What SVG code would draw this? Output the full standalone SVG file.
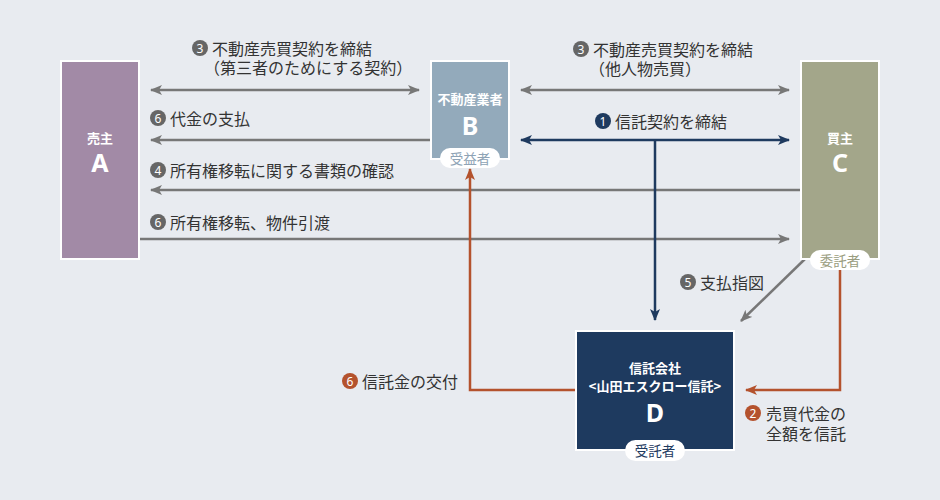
<svg xmlns="http://www.w3.org/2000/svg" width="940" height="500" viewBox="0 0 940 500">
<defs>
<style>
text{font-family:"Noto Sans CJK JP","Noto Sans",sans-serif;dominant-baseline:central}
.lbl{font-size:16px;fill:#333}
.num{font-size:12px;fill:#fff;text-anchor:middle;font-family:"Noto Sans","Liberation Sans",sans-serif}
.box{stroke:#fff;stroke-width:2}
.t{fill:#fff;font-weight:bold;text-anchor:middle}
.sm{font-size:13px}
.big{font-size:25px;font-family:"Noto Sans","Liberation Sans",sans-serif}
.badge{fill:#fff}
.bt{font-size:13.5px;text-anchor:middle}
.g{stroke:#777;stroke-width:2.5;fill:none}
.n{stroke:#1e3a5f;stroke-width:2.5;fill:none}
.o{stroke:#b4522d;stroke-width:2.5;fill:none}
</style>
<marker id="mg" viewBox="0 0 12 10" refX="11" refY="5" markerWidth="12" markerHeight="10" markerUnits="userSpaceOnUse" orient="auto-start-reverse"><path d="M0,0 L12,5 L0,10 L3,5 z" fill="#777"/></marker>
<marker id="mn" viewBox="0 0 12 10" refX="11" refY="5" markerWidth="12" markerHeight="10" markerUnits="userSpaceOnUse" orient="auto-start-reverse"><path d="M0,0 L12,5 L0,10 L3,5 z" fill="#1e3a5f"/></marker>
<marker id="mo" viewBox="0 0 12 10" refX="11" refY="5" markerWidth="12" markerHeight="10" markerUnits="userSpaceOnUse" orient="auto-start-reverse"><path d="M0,0 L12,5 L0,10 L3,5 z" fill="#b4522d"/></marker>
</defs>
<rect width="940" height="500" fill="#e8ebf0"/>

<g id="connectors">
<line class="g" x1="151" y1="90" x2="419" y2="90" marker-start="url(#mg)" marker-end="url(#mg)"/>
<line class="g" x1="430" y1="140" x2="151" y2="140" marker-end="url(#mg)"/>
<line class="g" x1="800" y1="190" x2="151" y2="190" marker-end="url(#mg)"/>
<line class="g" x1="140" y1="239" x2="789" y2="239" marker-end="url(#mg)"/>
<line class="g" x1="521" y1="90" x2="789" y2="90" marker-start="url(#mg)" marker-end="url(#mg)"/>
<line class="n" x1="521" y1="140" x2="789" y2="140" marker-start="url(#mn)" marker-end="url(#mn)"/>
<line class="n" x1="655" y1="140" x2="655" y2="320" marker-end="url(#mn)"/>
<line class="g" x1="806" y1="258" x2="741" y2="321" marker-end="url(#mg)"/>
<polyline class="o" points="840,270 840,390 746,390" marker-end="url(#mo)"/>
<polyline class="o" points="575,390 470,390 470,169" marker-end="url(#mo)"/>

<g id="labels">
<circle cx="200" cy="48" r="8" fill="#666"/><text class="num" x="200" y="48">3</text>
<text class="lbl"><tspan x="212" y="48">不動産売買契約を締結</tspan><tspan x="204" y="67">（第三者のためにする契約）</tspan></text>
<circle cx="158" cy="118" r="8" fill="#666"/><text class="num" x="158" y="118">6</text>
<text class="lbl" x="170" y="118">代金の支払</text>
<circle cx="158" cy="170" r="8" fill="#666"/><text class="num" x="158" y="170">4</text>
<text class="lbl" x="170" y="170">所有権移転に関する書類の確認</text>
<circle cx="158" cy="222" r="8" fill="#666"/><text class="num" x="158" y="222">6</text>
<text class="lbl" x="170" y="222">所有権移転、物件引渡</text>
<circle cx="581" cy="49" r="8" fill="#666"/><text class="num" x="581" y="49">3</text>
<text class="lbl"><tspan x="593" y="49">不動産売買契約を締結</tspan><tspan x="589" y="68">（他人物売買）</tspan></text>
<circle cx="603" cy="121" r="8" fill="#1e3a5f"/><text class="num" x="603" y="121">1</text>
<text class="lbl" x="615" y="121">信託契約を締結</text>
<circle cx="688" cy="282" r="8" fill="#666"/><text class="num" x="688" y="282">5</text>
<text class="lbl" x="700" y="282">支払指図</text>
<circle cx="753" cy="413" r="8" fill="#b4522d"/><text class="num" x="753" y="413">2</text>
<text class="lbl"><tspan x="766" y="413">売買代金の</tspan><tspan x="766" y="433">全額を信託</tspan></text>
<circle cx="350" cy="381" r="8" fill="#b4522d"/><text class="num" x="350" y="381">6</text>
<text class="lbl" x="362" y="381">信託金の交付</text>
</g>
</g>

<g id="nodeA">
<rect class="box" x="61" y="61" width="78" height="198" fill="#a28aa6"/>
<text class="t sm" x="100" y="137">売主</text>
<text class="t big" x="100" y="162">A</text>
</g>

<g id="nodeB">
<rect class="box" x="431" y="61" width="78" height="98" fill="#93aabb"/>
<text class="t sm" x="470" y="98">不動産業者</text>
<text class="t big" x="470" y="125">B</text>
<rect class="badge" x="440" y="148" width="60" height="20" rx="10"/>
<text class="bt" x="470" y="158" fill="#8ea3b5">受益者</text>
</g>

<g id="nodeC">
<rect class="box" x="801" y="61" width="78" height="198" fill="#a3a68a"/>
<text class="t sm" x="840" y="137">買主</text>
<text class="t big" x="840" y="162">C</text>
<rect class="badge" x="810" y="250" width="60" height="20" rx="10"/>
<text class="bt" x="840" y="260" fill="#9a9d80">委託者</text>
</g>

<g id="nodeD">
<rect class="box" x="576" y="331" width="158" height="119" fill="#1e3a5f"/>
<text class="t sm" x="655" y="367">信託会社</text>
<text class="t sm" x="655" y="385">&lt;山田エスクロー信託&gt;</text>
<text class="t big" x="655" y="412">D</text>
<rect class="badge" x="625" y="440" width="60" height="21" rx="10.5"/>
<text class="bt" x="655" y="450" fill="#1e3a5f">受託者</text>
</g>
</svg>
